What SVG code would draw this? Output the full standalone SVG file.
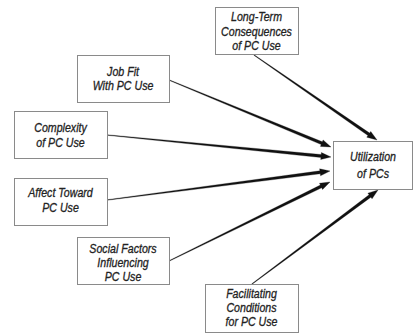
<svg xmlns="http://www.w3.org/2000/svg" width="414" height="334" viewBox="0 0 414 334">
<style>
.box{fill:#fff;stroke:#8a8a8a;stroke-width:1}
.t{font-family:"Liberation Sans",Arial,sans-serif;font-style:italic;font-size:12.5px;fill:#222;stroke:#222;stroke-width:0.3;text-anchor:middle}
.c{fill:#111;stroke:#111;stroke-width:0.3;stroke-linejoin:miter}
</style>
<rect width="414" height="334" fill="#fff"/>
<g id="connectors">
<polygon class="c" points="253.83,55.25 367.92,135.54 366.78,137.19 377,140 370.76,131.43 369.62,133.08 254.17,54.75"/>
<polygon class="c" points="168.89,80.28 321.19,144.57 320.42,146.41 331,147 323.10,139.95 322.33,141.79 169.11,79.72"/>
<polygon class="c" points="106.97,135.30 320.90,157.51 320.71,159.50 331,157 321.39,152.54 321.20,154.53 107.03,134.70"/>
<polygon class="c" points="107.04,200.30 320.27,173.78 320.53,175.76 330,171 319.63,168.82 319.89,170.80 106.96,199.70"/>
<polygon class="c" points="169.13,261.27 321.68,187.76 322.56,189.55 330,182 319.48,183.27 320.36,185.06 168.87,260.73"/>
<polygon class="c" points="252.18,284.24 370.88,197.18 372.07,198.79 378,190 367.89,193.17 369.08,194.78 251.82,283.76"/>
</g>
<g id="longterm">
<rect class="box" x="215.5" y="7.5" width="83" height="47"/>
<g transform="translate(256.5 0) scale(0.85 1)">
<text class="t" x="0" y="21">Long-Term</text>
<text class="t" x="0" y="36">Consequences</text>
<text class="t" x="0" y="50">of PC Use</text>
</g>
</g>
<g id="jobfit">
<rect class="box" x="77.5" y="55.5" width="92" height="47"/>
<g transform="translate(123 0) scale(0.85 1)">
<text class="t" x="0" y="76">Job Fit</text>
<text class="t" x="0" y="90">With PC Use</text>
</g>
</g>
<g id="complexity">
<rect class="box" x="14.5" y="111.5" width="93" height="47"/>
<g transform="translate(60.5 0) scale(0.85 1)">
<text class="t" x="0" y="132">Complexity</text>
<text class="t" x="0" y="147">of PC Use</text>
</g>
</g>
<g id="affect">
<rect class="box" x="14.5" y="178.5" width="93" height="47"/>
<g transform="translate(60.5 0) scale(0.85 1)">
<text class="t" x="0" y="197">Affect Toward</text>
<text class="t" x="0" y="212">PC Use</text>
</g>
</g>
<g id="social">
<rect class="box" x="77.5" y="237.5" width="92" height="47"/>
<g transform="translate(123 0) scale(0.85 1)">
<text class="t" x="0" y="253">Social Factors</text>
<text class="t" x="0" y="267">Influencing</text>
<text class="t" x="0" y="281">PC Use</text>
</g>
</g>
<g id="facilitating">
<rect class="box" x="205.5" y="284.5" width="93" height="48"/>
<g transform="translate(251.5 0) scale(0.85 1)">
<text class="t" x="0" y="298">Facilitating</text>
<text class="t" x="0" y="312">Conditions</text>
<text class="t" x="0" y="326">for PC Use</text>
</g>
</g>
<g id="utilization">
<rect class="box" x="333.5" y="141.5" width="79" height="48"/>
<g transform="translate(373 0) scale(0.85 1)">
<text class="t" x="0" y="161">Utilization</text>
<text class="t" x="0" y="178">of PCs</text>
</g>
</g>
</svg>
